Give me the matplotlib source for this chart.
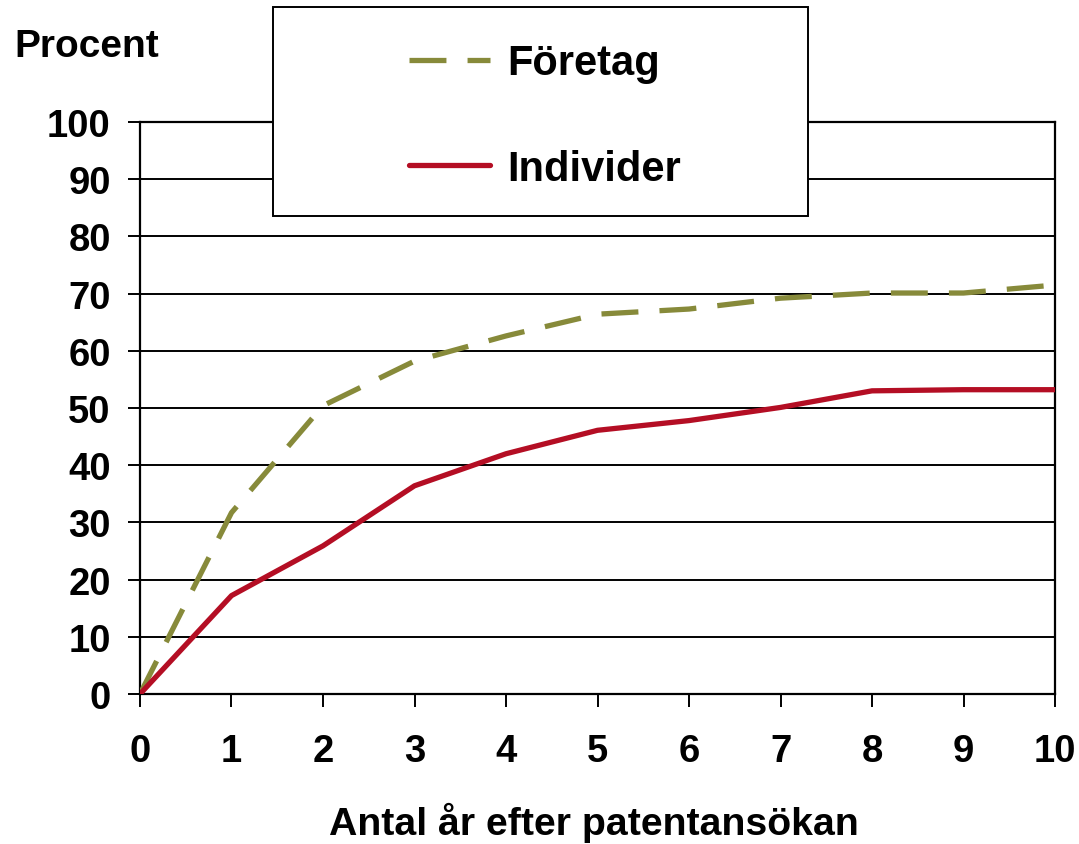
import matplotlib.pyplot as plt
from matplotlib.patches import Rectangle

plt.rcParams['font.family'] = ['Liberation Sans', 'DejaVu Sans']
plt.rcParams['font.weight'] = 'bold'

years = [0, 1, 2, 3, 4, 5, 6, 7, 8, 9, 10]
foretag = [0, 31.7, 50.4, 58.2, 62.6, 66.4, 67.3, 69.2, 70.1, 70.1, 71.5]
individer = [0, 17.2, 25.9, 36.4, 42.0, 46.1, 47.8, 50.1, 53.0, 53.2, 53.2]

olive = '#878A3A'
red = '#B40E24'

fig = plt.figure(figsize=(10.79, 8.45), dpi=100)
ax = fig.add_axes([140 / 1079, 150 / 845, 915 / 1079, 572 / 845])

ax.plot(years, foretag, color=olive, lw=3.8, linestyle=(0, (7, 4)),
        dash_capstyle='butt', label='Företag', zorder=3)
ax.plot(years, individer, color=red, lw=3.8, label='Individer', zorder=3,
        solid_capstyle='round')

ax.set_xlim(0, 10)
ax.set_ylim(0, 100)
ax.set_xticks(years)
ax.set_yticks(range(0, 101, 10))
ax.grid(axis='y', color='black', lw=1.4)
ax.set_axisbelow(True)
for s in ax.spines.values():
    s.set_linewidth(1.6)
    s.set_color('black')
ax.tick_params(axis='both', direction='out', length=9, width=1.4,
               labelsize=27.5)
ax.tick_params(axis='x', pad=19)
ax.tick_params(axis='y', pad=12)
for lab in ax.get_xticklabels() + ax.get_yticklabels():
    lab.set_fontweight('bold')

fig.text(14 / 1079, 1 - 57 / 845, 'Procent', fontsize=28, fontweight='bold',
         va='baseline', ha='left')
fig.text(594 / 1079, 1 - 835 / 845, 'Antal år efter patentansökan',
         fontsize=28.3, fontweight='bold', va='baseline', ha='center')

# legend box
fig.patches.append(Rectangle((273 / 1079, 1 - 217 / 845), 535 / 1079, 209 / 845,
                             transform=fig.transFigure, facecolor='white',
                             edgecolor='black', lw=1.4, zorder=5))
handles, labels = ax.get_legend_handles_labels()
leg = fig.legend(handles, labels, loc='center',
                 bbox_to_anchor=(545 / 1079, 1 - 117 / 845), frameon=False,
                 handlelength=1.95, handletextpad=0.42,
                 labelspacing=1.58, prop={'weight': 'bold', 'size': 30})
leg.set_zorder(6)

fig.savefig('out.png', dpi=100)
